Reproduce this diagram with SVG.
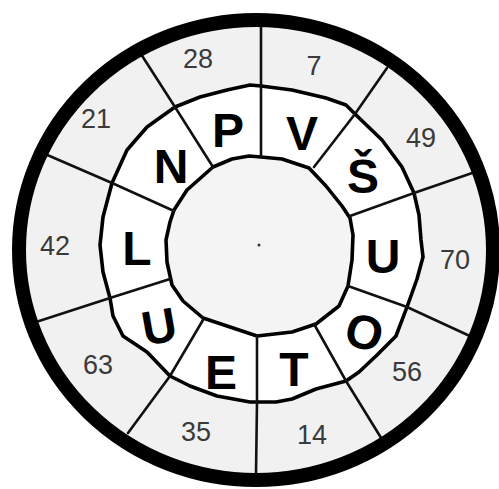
<svg xmlns="http://www.w3.org/2000/svg" width="499" height="489" viewBox="0 0 499 489">
<style>
.num{font-family:"Liberation Sans",Arial,sans-serif;font-size:27px;fill:#3a3a3a;text-anchor:middle}
.let{font-family:"Liberation Sans",Arial,sans-serif;font-weight:bold;font-size:48px;fill:#000;text-anchor:middle}
.div{stroke:#111;stroke-width:2.6;fill:none;stroke-linecap:round}
.ring{stroke:#000;stroke-width:3.6;stroke-linejoin:round}
</style>
<rect width="499" height="489" fill="#fff"/>
<g id="outer-ring">
<ellipse cx="256" cy="250" rx="237" ry="230" fill="#f1f1f1"/>
</g>
<g id="letter-ring">
<path class="ring" fill="#fff" d="M250,85 L261,86 L292,90 L326,98 L346,105 L355,114 L382,140 L402,167 L414,193 L419,215 L421,240 L423,257 L417,279 L407,307 L396,336 L376,356 L359,372 L346,381 L316,389 L292,399 L276,402 L250,402 L217,396 L190,386 L170,376 L147,352 L123,336 L113,316 L110,298 L103,272 L100,245 L103,217 L112,183 L127,150 L147,127 L175,107 L200,97 L227,90 Z"/>
</g>
<g id="inner-circle">
<path class="ring" fill="#f4f4f4" d="M249,156 L261,157 L282,159 L309,168 L326,186 L342,206 L350,218 L353,235 L352,260 L348,286 L339,306 L316,324 L292,332 L257,336 L230,327 L203,318 L183,301 L172,285 L167,262 L166,240 L170,222 L174,210 L187,190 L213,167 L232,159 Z"/>
<circle cx="259" cy="245" r="1.5" fill="#333"/>
</g>
<g id="connectors">
<path class="div" d="M261,27 L261,157"/>
<path class="div" d="M387,68 L355,114 L314,167"/>
<path class="div" d="M478,171 L414,193 L350,216"/>
<path class="div" d="M472,337 L407,307 L348,286"/>
<path class="div" d="M383,441 L346,381 L314,324"/>
<path class="div" d="M256,474 L257,402 L257,336"/>
<path class="div" d="M128,433 L170,376 L203,320"/>
<path class="div" d="M36,322 L110,298 L170,279"/>
<path class="div" d="M45,154 L112,183 L174,211"/>
<path class="div" d="M139,51 L175,107 L213,167"/>
</g>
<ellipse cx="256" cy="250" rx="237" ry="230" fill="none" stroke="#000" stroke-width="14"/>
<g id="n28"><text class="num" x="198" y="68">28</text></g>
<g id="n7"><text class="num" x="314" y="75">7</text></g>
<g id="n49"><text class="num" x="421" y="147">49</text></g>
<g id="n70"><text class="num" x="455" y="269">70</text></g>
<g id="n56"><text class="num" x="407" y="381">56</text></g>
<g id="n14"><text class="num" x="312" y="444">14</text></g>
<g id="n35"><text class="num" x="196" y="441">35</text></g>
<g id="n63"><text class="num" x="98" y="374">63</text></g>
<g id="n42"><text class="num" x="55" y="255">42</text></g>
<g id="n21"><text class="num" x="96" y="128">21</text></g>
<g id="lP"><text class="let" x="228" y="147">P</text></g>
<g id="lV"><text class="let" x="302" y="150">V</text></g>
<g id="lS"><text class="let" x="363" y="193">Š</text></g>
<g id="lU"><text class="let" x="383" y="273">U</text></g>
<g id="lO"><text class="let" x="365" y="349" transform="rotate(15 365 330)">O</text></g>
<g id="lT"><text class="let" x="294" y="386">T</text></g>
<g id="lE"><text class="let" x="221" y="389">E</text></g>
<g id="lU2"><text class="let" x="159" y="343" transform="rotate(-10 159 325)">U</text></g>
<g id="lL"><text class="let" x="137" y="265">L</text></g>
<g id="lN"><text class="let" x="171" y="183">N</text></g>
</svg>
